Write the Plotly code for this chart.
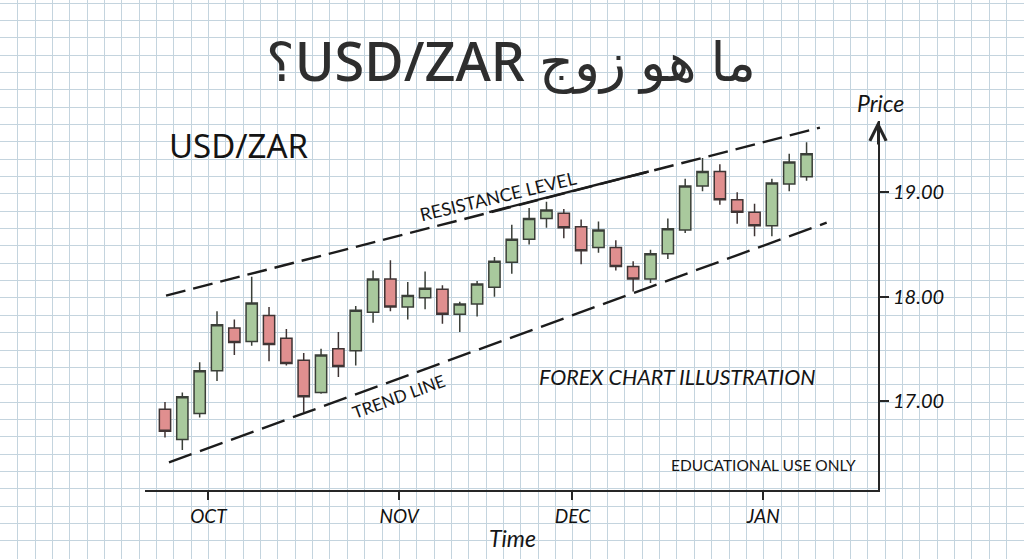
import plotly.graph_objects as go

# ---------------- data ----------------
opens  = [16.92, 16.63, 16.88, 17.29, 17.70, 17.57, 17.82, 17.60, 17.39, 17.08,
          17.50, 17.48, 17.85, 18.17, 17.90, 17.99, 18.07, 17.83, 17.93, 18.09,
          18.33, 18.55, 18.75, 18.80, 18.67, 18.47, 18.47, 18.29, 18.17, 18.41,
          18.64, 19.06, 19.20, 18.93, 18.81, 18.68, 19.08, 19.15]
highs  = [16.99, 17.08, 17.37, 17.86, 17.78, 18.19, 17.90, 17.69, 17.46, 17.50,
          17.66, 17.91, 18.25, 18.35, 18.14, 18.24, 18.11, 17.95, 18.15, 18.38,
          18.69, 18.85, 18.91, 18.84, 18.74, 18.72, 18.54, 18.34, 18.45, 18.75,
          19.13, 19.33, 19.27, 19.00, 18.89, 19.13, 19.37, 19.48]
lows   = [16.65, 16.53, 16.84, 17.19, 17.44, 17.53, 17.38, 17.34, 16.89, 17.07,
          17.23, 17.34, 17.75, 17.86, 17.78, 17.88, 17.74, 17.66, 17.81, 18.00,
          18.22, 18.50, 18.66, 18.56, 18.31, 18.42, 18.25, 18.05, 18.13, 18.36,
          18.61, 19.01, 18.88, 18.70, 18.58, 18.58, 19.01, 19.11]
closes = [16.71, 17.04, 17.29, 17.73, 17.56, 17.94, 17.54, 17.36, 17.04, 17.44,
          17.33, 17.87, 18.17, 17.90, 18.01, 18.08, 17.83, 17.93, 18.12, 18.34,
          18.55, 18.75, 18.83, 18.66, 18.44, 18.64, 18.29, 18.17, 18.41, 18.65,
          19.06, 19.20, 18.93, 18.81, 18.68, 19.09, 19.29, 19.37]
candle_index = list(range(len(opens)))

month_labels = ["OCT", "NOV", "DEC", "JAN"]
month_positions = [2.5, 13.5, 23.5, 34.5]          # boundaries between candles
price_ticks = [17.0, 18.0, 19.0]

resistance_x = [0.06, 37.77]
resistance_y = [18.01, 19.62]
resistance_solid_x = [18.7, 27.9]
resistance_solid_y = [18.81, 19.20]
trend_x = [0.23, 38.16]
trend_y = [16.41, 18.71]

# ---------------- layout helpers ----------------
W, H = 1024, 559
def px(x, y):
    return x / W, 1 - y / H

INK = "#262626"
HAND = "Lato"

fig = go.Figure()

# background graph-paper grid (full-page subplot)
fig.add_trace(go.Scatter(x=[], y=[], xaxis="x", yaxis="y", hoverinfo="skip", showlegend=False))

# candles
fig.add_trace(go.Candlestick(
    x=candle_index, open=opens, high=highs, low=lows, close=closes,
    xaxis="x2", yaxis="y2",
    increasing=dict(fillcolor="#a9c99d", line=dict(color="#3a3f38", width=1.5)),
    decreasing=dict(fillcolor="#e08f8f", line=dict(color="#3f3434", width=1.5)),
    whiskerwidth=0, showlegend=False, hoverinfo="skip",
))

# resistance & trend lines
fig.add_trace(go.Scatter(x=resistance_x, y=resistance_y, mode="lines", xaxis="x2", yaxis="y2",
                         line=dict(color="#1c1c1c", width=2.4, dash="20px,8px"),
                         showlegend=False, hoverinfo="skip"))
fig.add_trace(go.Scatter(x=resistance_solid_x, y=resistance_solid_y, mode="lines", xaxis="x2", yaxis="y2",
                         line=dict(color="#1c1c1c", width=2.4),
                         showlegend=False, hoverinfo="skip"))
fig.add_trace(go.Scatter(x=trend_x, y=trend_y, mode="lines", xaxis="x2", yaxis="y2",
                         line=dict(color="#1c1c1c", width=2.4, dash="24px,9px"),
                         showlegend=False, hoverinfo="skip"))

x_dom = [145 / W, 878 / W]
y_dom = [1 - 490 / H, 1 - 121 / H]

fig.update_layout(
    width=W, height=H,
    margin=dict(l=0, r=0, t=0, b=0),
    paper_bgcolor="white",
    plot_bgcolor="rgba(0,0,0,0)",
    boxgap=0.35, boxgroupgap=0,
    xaxis=dict(domain=[0, 1], range=[0, W], showgrid=True, gridcolor="#c4d4de", gridwidth=1,
               tick0=0.3, dtick=17.35, showticklabels=False, zeroline=False, showline=False,
               ticks="", fixedrange=True),
    yaxis=dict(domain=[0, 1], range=[H, 0], showgrid=True, gridcolor="#c4d4de", gridwidth=1,
               tick0=3, dtick=17.35, showticklabels=False, zeroline=False, showline=False,
               ticks="", fixedrange=True),
    xaxis2=dict(domain=x_dom, range=[-1.153, 41.12], anchor="y2",
                showgrid=False, zeroline=False, rangeslider=dict(visible=False),
                showline=True, linecolor=INK, linewidth=2,
                tickvals=month_positions, ticktext=month_labels,
                ticks="outside", ticklen=8, tickwidth=1.5, tickcolor=INK,
                tickfont=dict(family=HAND, size=19, color="#111", style="italic")),
    yaxis2=dict(domain=y_dom, range=[16.146, 19.684], anchor="x2", side="right",
                showgrid=False, zeroline=False,
                showline=True, linecolor=INK, linewidth=2,
                tickvals=price_ticks, tickformat=".2f",
                ticks="outside", ticklen=9, tickwidth=1.5, tickcolor=INK,
                tickfont=dict(family=HAND, size=20, color="#111", style="italic")),
)

ann = []
def text(x, y, s, size, family=HAND, style="normal", angle=0, color="#151515", xanchor="center", weight="normal"):
    ax, ay = px(x, y)
    ann.append(dict(x=ax, y=ay, xref="paper", yref="paper", text=s, showarrow=False,
                    xanchor=xanchor, yanchor="middle", textangle=angle,
                    font=dict(family=family, size=size, color=color, style=style, weight=weight)))

text(511, 60, "\u202Bما هو زوج USD/ZAR؟\u202C", 54, family="Noto Sans, DejaVu Sans", color="#2e2e2e", weight=500)
text(167, 145, "USD/ZAR", 33, family="Noto Sans", xanchor="left", color="#141414")
text(880, 103, "Price", 23, style="italic")
text(512, 538, "Time", 23, style="italic")
text(498, 196, "RESISTANCE LEVEL", 18, angle=-13.5)
text(398, 396, "TREND LINE", 17, angle=-20)
text(677, 377, "FOREX CHART ILLUSTRATION", 21.5, style="italic")
text(763, 465, "EDUCATIONAL USE ONLY", 15.5)

# arrow head on top of the price axis
ann.append(dict(x=x_dom[1], y=y_dom[1], xref="paper", yref="paper", ax=0, ay=25,
                showarrow=True, arrowhead=5, arrowsize=1.6, arrowwidth=2, arrowcolor=INK, text=""))

fig.update_layout(annotations=ann)
fig.write_html("out.html", config={"displayModeBar": False},
               post_script="document.body.style.margin='0';")
